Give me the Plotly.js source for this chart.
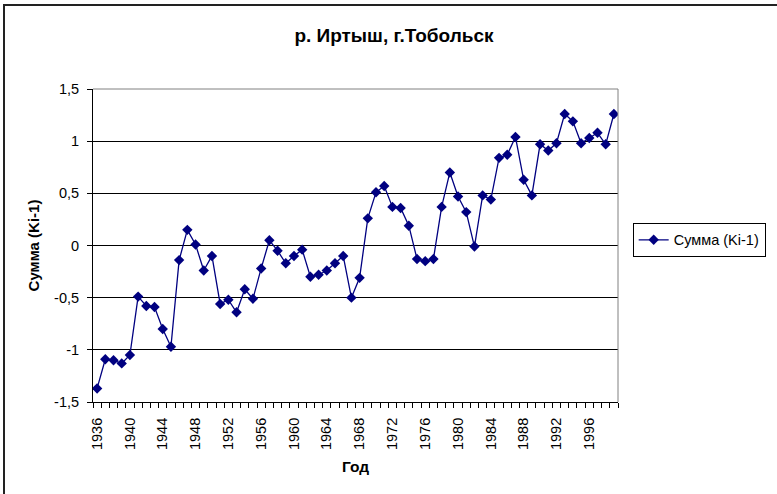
<!DOCTYPE html>
<html>
<head>
<meta charset="utf-8">
<script src="https://cdn.plot.ly/plotly-3.0.1.min.js"></script>
<style>
  body { margin: 0; background: #fff; }
  #wrap { position: relative; width: 777px; height: 494px; overflow: hidden; }
  #frame { position: absolute; left: 3px; top: 4px; width: 800px; height: 520px;
           border: 2px solid #222; pointer-events: none; }
</style>
</head>
<body>
<div id="wrap">
  <div id="chart" style="width:777px;height:494px;"></div>
  <div id="frame"></div>
</div>
<script>
// годы наблюдений
var years = [];
for (var y = 1936; y <= 1999; y++) years.push(y);

// Сумма (Ki-1)
var sums = [
  -1.37, -1.09, -1.10, -1.13, -1.05, -0.49, -0.58, -0.59, -0.80, -0.97,
  -0.14, 0.15, 0.01, -0.24, -0.10, -0.56, -0.52, -0.64, -0.42, -0.51,
  -0.22, 0.05, -0.05, -0.17, -0.10, -0.04, -0.30, -0.28, -0.24, -0.17,
  -0.10, -0.50, -0.31, 0.26, 0.51, 0.57, 0.37, 0.36, 0.19, -0.13,
  -0.15, -0.13, 0.37, 0.70, 0.47, 0.32, -0.01, 0.48, 0.44, 0.84,
  0.87, 1.04, 0.63, 0.48, 0.97, 0.91, 0.98, 1.26, 1.19, 0.98,
  1.03, 1.08, 0.97, 1.26
];

var xTickVals = [1936, 1940, 1944, 1948, 1952, 1956, 1960, 1964, 1968, 1972, 1976, 1980, 1984, 1988, 1992, 1996];
var yTickVals = [-1.5, -1, -0.5, 0, 0.5, 1, 1.5];
var yTickText = ['-1,5', '-1', '-0,5', '0', '0,5', '1', '1,5'];

var trace1 = {
    x: years,
    y: sums,
    name: 'Сумма (Ki-1)',
    type: 'scatter',
    mode: 'lines+markers',
    line: { color: '#000080', width: 1.3 },
    marker: { symbol: 'diamond', size: 8, color: '#000080' }
};

var layout = {
    width: 777,
    height: 494,
    font: { family: 'Liberation Sans, Arial, sans-serif', size: 14.5, color: '#000' },
    paper_bgcolor: 'rgba(0,0,0,0)',
    plot_bgcolor: '#fff',
    separators: ', ',
    margin: { l: 93, r: 158, t: 89, b: 92 },
    title: {
        text: '<b>р. Иртыш, г.Тобольск</b>',
        font: { size: 19 },
        xref: 'container', x: 0.507, xanchor: 'center',
        yref: 'container', y: 0.928, yanchor: 'middle'
    },
    xaxis: {
        range: [1935.5, 1999.5],
        tickmode: 'array',
        tickvals: xTickVals,
        tickangle: -90,
        ticks: '',
        ticklabelstandoff: 9,
        showgrid: false,
        zeroline: false,
        showline: true,
        linecolor: '#000',
        linewidth: 1,
        minor: { tick0: 1935.5, dtick: 1, ticks: 'outside', ticklen: 5, tickcolor: '#000', showgrid: false },
        title: { text: '<b>Год</b>', font: { size: 15.5 }, standoff: 12 }
    },
    yaxis: {
        range: [-1.5, 1.5],
        tickmode: 'array',
        tickvals: yTickVals,
        ticktext: yTickText,
        ticks: 'outside',
        ticklen: 5,
        tickcolor: '#000',
        ticklabelstandoff: 5,
        showgrid: true,
        gridcolor: '#000',
        gridwidth: 1,
        zeroline: false,
        showline: true,
        linecolor: '#000',
        linewidth: 1,
        title: { text: '<b>Сумма (Ki-1)</b>', font: { size: 15 }, standoff: 10 }
    },
    legend: {
        x: 1.026, xanchor: 'left',
        y: 0.518, yanchor: 'middle',
        bgcolor: '#fff',
        bordercolor: '#000',
        borderwidth: 1,
        font: { size: 14.5 }
    },
    showlegend: true,
    shapes: [
        { type: 'line', xref: 'paper', yref: 'paper', x0: 0, x1: 1, y0: 1, y1: 1,
          line: { color: '#808080', width: 1 }, layer: 'above' },
        { type: 'line', xref: 'paper', yref: 'paper', x0: 1, x1: 1, y0: 0, y1: 1,
          line: { color: '#808080', width: 1 }, layer: 'above' }
    ]
};

Plotly.newPlot('chart', [trace1], layout, { displayModeBar: false, staticPlot: true });
</script>
</body>
</html>
